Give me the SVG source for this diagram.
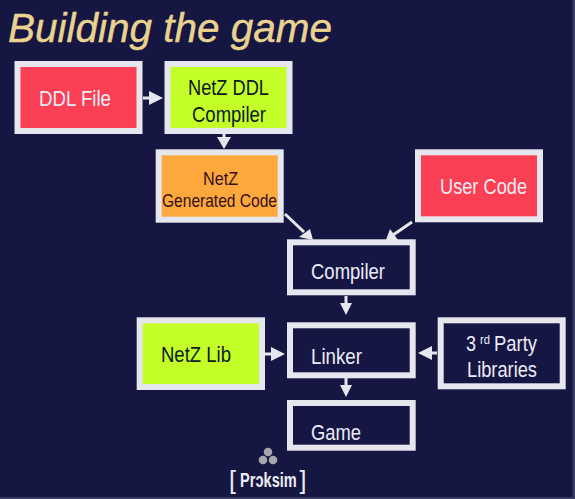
<svg xmlns="http://www.w3.org/2000/svg" width="575" height="499" viewBox="0 0 575 499">
<style>
text{font-family:"Liberation Sans",Arial,sans-serif}
.box{stroke:#e6e6ee;stroke-width:6}
.red{fill:#fb3f55}.lime{fill:#c4fe28}.orange{fill:#fda83c}.dark{fill:#161645}
.lbl{font-size:22.5px;text-anchor:start}
.w{fill:#ececf4}.k{fill:#0c1a20}.o{fill:#33101c}
.line{stroke:#e6e6ee;stroke-width:3;fill:none}
.head{fill:#e6e6ee}
</style>
<rect width="575" height="499" fill="#161642"/>
<rect x="572.500" y="0" width="2.500" height="499" fill="#3a3a66"/>
<rect x="0" y="497" width="575" height="2" fill="#3a3a66"/>
<text x="8" y="42" font-size="40" font-style="italic" fill="#ead38f" stroke="#ead38f" stroke-width="0.4" textLength="324" lengthAdjust="spacingAndGlyphs">Building the game</text>
<g id="connectors">
<path class="line" d="M143 98H152"/><path class="head" d="M149 91L163 98L149 105Z"/>
<path class="line" d="M224 134V140"/><path class="head" d="M217 137L231 137L224 149Z"/>
<path class="line" d="M285 214L304 232"/><path class="head" d="M299 237L310 229L313 240Z"/>
<path class="line" d="M412 222L393 235"/><path class="head" d="M386 240L398 240L390 229Z"/>
<path class="line" d="M346 296V304"/><path class="head" d="M340 303H352L346 315Z"/>
<path class="line" d="M265 354H273"/><path class="head" d="M271 347L285 354L271 361Z"/>
<path class="line" d="M437 353H428"/><path class="head" d="M432 346L418 353L432 360Z"/>
<path class="line" d="M346 378V387"/><path class="head" d="M340 385H352L346 397Z"/>
</g>
<g id="ddl-file"><rect class="box red" x="17.500" y="64" width="122" height="67"/><text class="lbl w" x="39" y="106" textLength="72" lengthAdjust="spacingAndGlyphs">DDL File</text></g>
<g id="ddl-compiler"><rect class="box lime" x="167.500" y="64" width="122" height="67"/><text class="lbl k" x="188" y="95" textLength="81" lengthAdjust="spacingAndGlyphs">NetZ DDL</text><text class="lbl k" x="192" y="122" textLength="74" lengthAdjust="spacingAndGlyphs">Compiler</text></g>
<g id="generated-code"><rect class="box orange" x="158.700" y="152.300" width="122" height="67.400"/><text class="o" font-size="18.500" x="203" y="184.500" textLength="35" lengthAdjust="spacingAndGlyphs">NetZ</text><text class="o" font-size="18.500" x="162" y="207" textLength="115" lengthAdjust="spacingAndGlyphs">Generated Code</text></g>
<g id="user-code"><rect class="box red" x="418" y="152.300" width="122" height="67"/><text class="lbl w" x="440" y="194" textLength="87" lengthAdjust="spacingAndGlyphs">User Code</text></g>
<g id="compiler"><rect class="box dark" x="290" y="242.300" width="122.700" height="50"/><text class="lbl w" x="311" y="279" textLength="74" lengthAdjust="spacingAndGlyphs">Compiler</text></g>
<g id="netz-lib"><rect class="box lime" x="139.700" y="320.300" width="122.300" height="66.700"/><text class="lbl k" x="161" y="362" textLength="70" lengthAdjust="spacingAndGlyphs">NetZ Lib</text></g>
<g id="linker"><rect class="box dark" x="290" y="325.300" width="122.700" height="50"/><text class="lbl w" x="311" y="364" textLength="51" lengthAdjust="spacingAndGlyphs">Linker</text></g>
<g id="third-party"><rect class="box dark" x="440.700" y="320.300" width="122" height="66"/><text class="lbl w" x="466" y="351" textLength="10" lengthAdjust="spacingAndGlyphs">3</text><text class="w" font-size="12" x="480" y="344" textLength="10" lengthAdjust="spacingAndGlyphs">rd</text><text class="lbl w" x="494" y="351" textLength="43" lengthAdjust="spacingAndGlyphs">Party</text><text class="lbl w" x="467" y="377" textLength="70" lengthAdjust="spacingAndGlyphs">Libraries</text></g>
<g id="game"><rect class="box dark" x="290" y="403" width="122.700" height="44.700"/><text class="lbl w" x="311" y="440" textLength="50" lengthAdjust="spacingAndGlyphs">Game</text></g>
<g id="logo">
<circle cx="268" cy="452" r="4.300" fill="#a6a6ae"/><circle cx="263" cy="460" r="4.300" fill="#a6a6ae"/><circle cx="273" cy="460" r="4.300" fill="#a6a6ae"/>
<text x="229" y="489" font-size="25" fill="#ececf4">[</text>
<text transform="translate(240 487) scale(0.73 1)" font-size="20" font-weight="700" fill="#ececf4">Prɔksim</text>
<text x="299.500" y="489" font-size="25" fill="#ececf4">]</text>
</g>
</svg>
